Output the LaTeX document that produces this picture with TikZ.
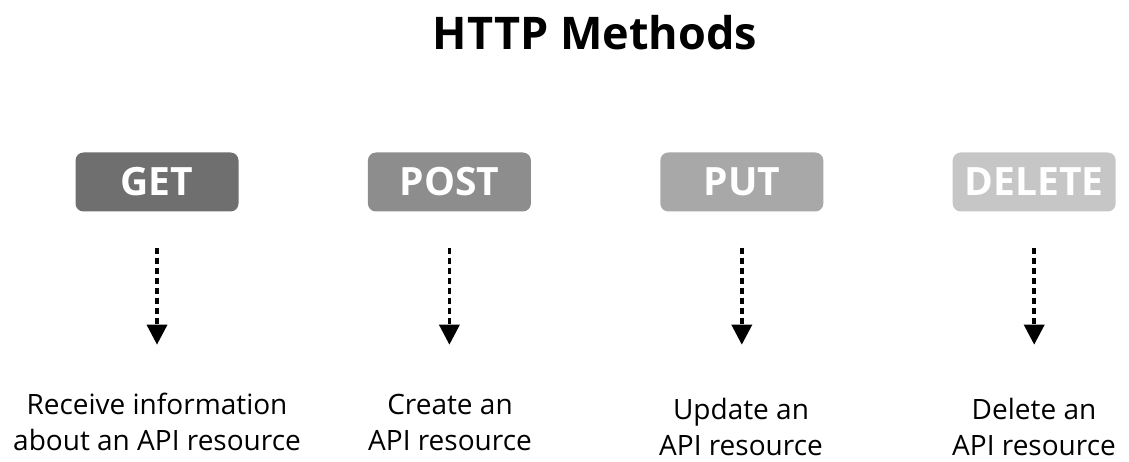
\documentclass[tikz,border=0pt]{standalone}
\usepackage{fontspec}
\setmainfont{Open Sans}
\usepackage{xcolor}
\usetikzlibrary{positioning,arrows.meta}

\definecolor{getgray}{HTML}{6F6F6F}
\definecolor{postgray}{HTML}{8D8D8D}
\definecolor{putgray}{HTML}{A8A8A8}
\definecolor{delgray}{HTML}{C6C6C6}

\begin{document}
\begin{tikzpicture}[
  x=1pt, y=-1pt,
  node distance=129pt,
  method/.style={rounded corners=8pt, text=white, align=center,
                 minimum width=163pt, minimum height=59pt, inner sep=0pt,
                 font=\fontsize{39}{42}\selectfont\bfseries},
  desc/.style={align=center, inner sep=0pt, font=\fontsize{28}{36}\selectfont},
  flow/.style={-{Triangle[length=20pt,width=20pt]}, line width=3.5pt,
               dash pattern=on 6pt off 4pt},
]
\useasboundingbox (0,0) rectangle (1129,462);

% --- Title ---
\node[font=\fontsize{45}{48}\selectfont\bfseries] (title) at (595,33) {HTTP Methods};

% --- Method boxes ---
\node[method, fill=getgray] (get) at (157,182) {GET};
\node[method, fill=postgray, right=of get] (post) {POST};
\node[method, fill=putgray, right=of post] (put) {PUT};
\node[method, fill=delgray, right=of put] (delete) {DELETE};

% --- Arrow ends ---
\coordinate[below=133pt of get.south] (get-e);
\coordinate[below=133pt of post.south] (post-e);
\coordinate[below=133pt of put.south] (put-e);
\coordinate[below=133pt of delete.south] (delete-e);

% --- Descriptions ---
\node[desc] (get-d) at (157,422) {Receive information\\about an API resource};
\node[desc] (post-d) at (450,422) {Create an\\API resource};
\node[desc] (put-d) at (741,427) {Update an\\API resource};
\node[desc] (delete-d) at (1034,427) {Delete an\\API resource};

% --- Edges ---
\draw[flow, shorten <=36pt] (get.south) -- (get-e);
\draw[flow, shorten <=36pt] (post.south) -- (post-e);
\draw[flow, shorten <=36pt] (put.south) -- (put-e);
\draw[flow, shorten <=36pt] (delete.south) -- (delete-e);

\end{tikzpicture}
\end{document}
